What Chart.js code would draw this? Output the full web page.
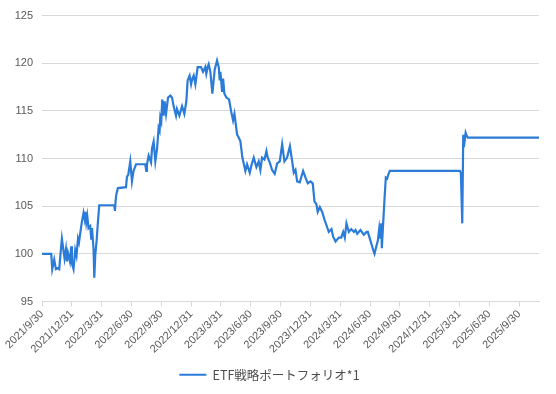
<!DOCTYPE html>
<html lang="ja">
<head>
<meta charset="utf-8">
<title>ETF戦略ポートフォリオ</title>
<script src="https://cdn.jsdelivr.net/npm/chart.js@4/dist/chart.umd.min.js"></script>
<style>
  html, body { margin: 0; padding: 0; background: #fff; }
  #wrap { width: 556px; height: 394px; }
</style>
</head>
<body>
<div id="wrap"><canvas id="perfChart" width="556" height="394"></canvas></div>
<script>
// x positions are months elapsed since 2021/9/30
const months = [
  0, 0.93, 1.03, 1.23, 1.40, 1.60, 1.73, 2.00, 2.27, 2.41,
  2.51, 2.61, 2.81, 2.94, 3.01, 3.17, 3.34, 3.47, 3.62, 3.72,
  3.92, 4.02, 4.18, 4.28, 4.35, 4.45, 4.55, 4.68, 4.85, 4.95,
  5.03, 5.13, 5.19, 5.26, 5.36, 5.49, 5.63, 5.76, 7.27, 7.34,
  7.40, 7.47, 7.64, 8.45, 8.55, 8.68, 8.88, 9.05, 9.21, 9.46,
  10.39, 10.49, 10.56, 10.73, 10.97, 11.07, 11.23, 11.40, 11.57, 11.73,
  11.83, 11.90, 12.00, 12.10, 12.24, 12.34, 12.48, 12.68, 12.91, 13.08,
  13.24, 13.48, 13.58, 13.82, 14.09, 14.32, 14.52, 14.65, 14.85, 15.00,
  15.10, 15.26, 15.43, 15.66, 16.00, 16.20, 16.43, 16.53, 16.67, 16.77,
  16.94, 17.14, 17.37, 17.61, 17.78, 17.88, 17.95, 18.12, 18.22, 18.35,
  18.55, 18.82, 19.02, 19.22, 19.36, 19.63, 19.79, 19.96, 20.16, 20.46,
  20.63, 20.90, 21.07, 21.30, 21.57, 21.80, 21.97, 22.14, 22.38, 22.58,
  22.71, 22.91, 23.15, 23.41, 23.66, 23.92, 24.16, 24.39, 24.66, 24.94,
  25.17, 25.33, 25.50, 25.67, 25.93, 26.27, 26.51, 26.74, 27.01, 27.24,
  27.41, 27.61, 27.74, 27.95, 28.19, 28.42, 28.62, 28.85, 29.12, 29.29,
  29.53, 29.86, 30.10, 30.30, 30.46, 30.63, 30.87, 31.11, 31.37, 31.54,
  31.71, 32.04, 32.38, 32.65, 32.78, 32.98, 33.32, 33.45, 33.66, 33.79,
  33.93, 34.06, 34.13, 34.19, 34.29, 34.46, 34.59, 34.73, 34.83, 34.99,
  42.04, 42.14, 42.28, 42.38, 42.44, 42.62, 42.72, 42.85, 50
];

const values = [
  100.0, 100.0, 98.4, 99.4, 98.4, 98.5, 98.4, 101.6, 99.5, 100.5,
  99.2, 100.1, 99.2, 100.8, 99.0, 98.4, 100.4, 99.8, 101.6, 101.2,
  102.7, 103.4, 104.3, 103.7, 104.4, 103.3, 104.0, 102.7, 102.9, 101.6,
  102.7, 101.3, 100.4, 97.5, 99.9, 101.3, 103.4, 105.1, 105.1, 104.5,
  105.5, 106.2, 106.9, 107.0, 108.1, 108.3, 109.7, 107.6, 108.7, 109.4,
  109.4, 108.7, 109.4, 110.3, 109.6, 111.1, 111.8, 109.7, 111.0, 113.2,
  112.9, 114.3, 113.9, 116.2, 114.5, 116.0, 114.7, 116.4, 116.6, 116.4,
  115.5, 114.5, 115.2, 114.5, 115.5, 114.7, 116.0, 118.2, 118.7, 117.8,
  118.3, 118.7, 117.8, 119.6, 119.6, 119.1, 119.6, 118.9, 119.6, 119.9,
  119.1, 116.8, 119.3, 120.3, 119.6, 118.2, 119.1, 117.0, 118.4, 116.8,
  116.4, 116.2, 115.0, 114.0, 114.7, 112.5, 112.2, 111.8, 110.1, 108.7,
  109.4, 108.5, 109.3, 110.1, 109.1, 109.7, 108.8, 110.1, 109.9, 110.8,
  110.1, 109.6, 108.8, 108.4, 109.5, 109.7, 111.5, 109.7, 110.1, 111.3,
  109.7, 108.5, 108.8, 107.6, 107.5, 108.7, 108.0, 107.4, 107.6, 107.4,
  105.5, 105.2, 104.4, 104.9, 104.4, 103.6, 103.0, 102.3, 102.6, 101.8,
  101.3, 101.7, 101.7, 102.3, 101.7, 103.2, 102.3, 102.6, 102.3, 102.5,
  102.1, 102.5, 102.0, 102.3, 102.3, 101.6, 100.4, 100.0, 100.9, 101.4,
  102.7, 101.6, 103.2, 100.6, 102.6, 105.8, 108.0, 107.9, 108.3, 108.7,
  108.7, 108.5, 103.2, 112.5, 111.2, 112.7, 112.4, 112.2, 112.2
];

// one tick label every quarter end, starting at month 0
const tickLabels = [
  "2021/9/30", "2021/12/31", "2022/3/31", "2022/6/30", "2022/9/30",
  "2022/12/31", "2023/3/31", "2023/6/30", "2023/9/30", "2023/12/31",
  "2024/3/31", "2024/6/30", "2024/9/30", "2024/12/31", "2025/3/31",
  "2025/6/30", "2025/9/30"
];

const yTicks = [95, 100, 105, 110, 115, 120, 125];

const SERIES_NAME = "ETF戦略ポートフォリオ*1";
const LINE_COLOR = "#2b7bd8";
const GRID_COLOR = "#d9d9d9";
const TEXT_COLOR = "#595959";

const points = months.map((m, i) => ({ x: m, y: values[i] }));

new Chart(document.getElementById("perfChart"), {
  type: "line",
  data: {
    datasets: [{
      label: SERIES_NAME,
      data: points,
      borderColor: LINE_COLOR,
      backgroundColor: LINE_COLOR,
      borderWidth: 2.2,
      pointRadius: 0,
      tension: 0,
      fill: false,
    }],
  },
  options: {
    responsive: false,
    animation: false,
    devicePixelRatio: 1,
    layout: { padding: { top: 15, right: 17, bottom: 3, left: 0 } },
    plugins: {
      tooltip: { enabled: false },
      legend: {
        position: "bottom",
        labels: {
          usePointStyle: true,
          pointStyle: "line",
          pointStyleWidth: 27,
          color: "#4d4d4d",
          padding: 10,
          font: { family: "'Noto Sans CJK JP', 'Liberation Sans', sans-serif", size: 12.5 },
        },
      },
    },
    scales: {
      x: {
        type: "linear",
        min: 0,
        max: 50,
        afterBuildTicks: (s) => { s.ticks = tickLabels.map((_, i) => ({ value: i * 3 })); },
        afterFit: (s) => { s.height = 57; },
        ticks: {
          autoSkip: false,
          maxRotation: 45,
          minRotation: 45,
          padding: 1,
          color: TEXT_COLOR,
          font: { family: "'Liberation Sans', Arial, sans-serif", size: 11 },
          callback: (v) => tickLabels[Math.round(v / 3)],
        },
        grid: { drawOnChartArea: false, drawTicks: true, tickLength: 5, color: GRID_COLOR },
        border: { color: GRID_COLOR },
      },
      y: {
        min: 95,
        max: 125,
        afterBuildTicks: (s) => { s.ticks = yTicks.map((v) => ({ value: v })); },
        afterFit: (s) => { s.width = 42; },
        ticks: {
          padding: 9,
          color: TEXT_COLOR,
          font: { family: "'Liberation Sans', Arial, sans-serif", size: 11 },
        },
        grid: { color: GRID_COLOR, drawTicks: false },
        border: { display: false },
      },
    },
  },
});
</script>
</body>
</html>
